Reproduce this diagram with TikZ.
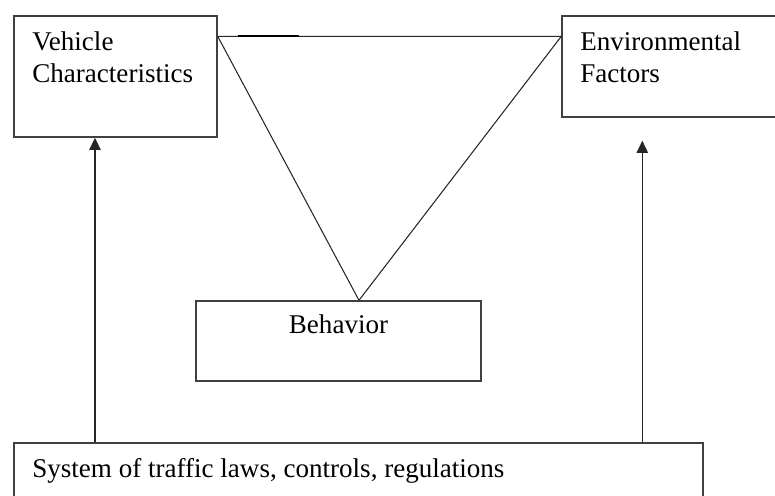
\documentclass[tikz,border=0pt]{standalone}
\usepackage{fontspec}
\setmainfont{Liberation Serif}
\usetikzlibrary{arrows.meta}
\tikzset{
  box/.style={draw=black!75,line width=0.8pt,inner sep=0pt},
  lbl/.style={inner sep=0pt,align=left,font=\fontsize{15.4}{18.2}\selectfont},
  link/.style={draw=black!85,line width=0.6pt},
  uparr/.style={draw=black!85,line width=0.85pt,->}
}
\begin{document}
\begin{tikzpicture}[>={Triangle[length=7pt,width=6.5pt]},x=0.02cm,y=-0.02cm]
\useasboundingbox (0,0) rectangle (775,495);
\clip (0,0) rectangle (775,495);
\node[box,minimum width=4.06cm,minimum height=2.42cm] (veh) at (115.5,76.5) {};
\node[box,minimum width=4.56cm,minimum height=2.02cm] (env) at (676,66.5) {};
\node[box,minimum width=5.7cm,minimum height=1.6cm] (beh) at (338.5,341) {};
\node[box,minimum width=13.78cm,minimum height=1.64cm] (sys) at (358.5,484) {};
\node[lbl,anchor=base west] (vehtxt) at (32,82) {Vehicle\\Characteristics};
\node[lbl,anchor=base west] (envtxt) at (580,82) {Environmental\\Factors};
\node[lbl,anchor=base] (behtxt) at (338.5,333) {Behavior};
\node[lbl,anchor=base west] (systxt) at (32,477) {System of traffic laws, controls, regulations};
\draw[link] ([yshift=-0.42cm]veh.north east) -- ([yshift=-0.42cm]env.north west);
\draw[line width=1.3pt] ([xshift=0.4cm,yshift=-0.42cm]veh.north east) -- ([xshift=1.62cm,yshift=-0.42cm]veh.north east);
\draw[link] ([yshift=-0.42cm]veh.north east) -- ([xshift=0.41cm]beh.north);
\draw[link] ([yshift=-0.42cm]env.north west) -- ([xshift=0.41cm]beh.north);
\draw[uparr] ([xshift=-0.41cm]veh.south |- sys.north) -- ([xshift=-0.41cm]veh.south);
\draw[uparr] ([xshift=1.62cm]env.south west |- sys.north) -- ([xshift=1.62cm,yshift=-0.46cm]env.south west);
\end{tikzpicture}
\end{document}
